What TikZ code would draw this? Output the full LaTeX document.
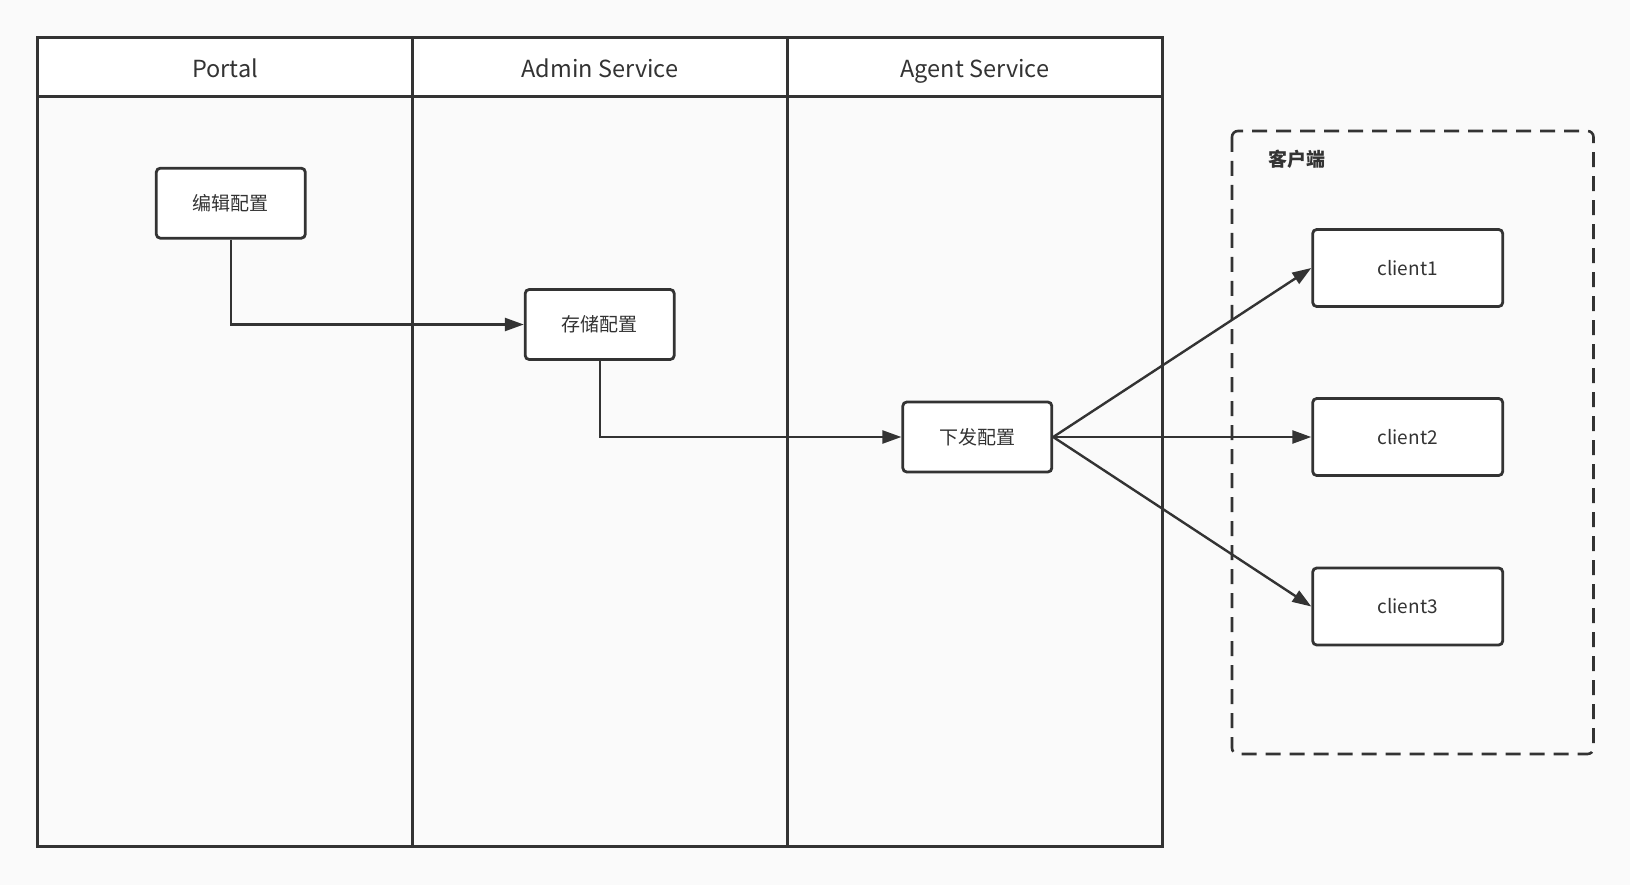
\documentclass[tikz,border=0pt]{standalone}
\usepackage{fontspec}
\setmainfont{Noto Sans CJK SC}
\usepackage{xcolor}
\usepackage{tikz}
\usetikzlibrary{arrows.meta}
\definecolor{ink}{HTML}{333333}
\definecolor{canvas}{HTML}{FAFAFA}
\tikzstyle{lane}=[draw=ink,line width=3pt]
\tikzstyle{title}=[text=ink,font=\fontsize{23.5}{26}\selectfont,anchor=base]
\tikzstyle{task}=[draw=ink,line width=2.8pt,rounded corners=4pt,fill=white,text=ink,
  minimum width=149pt,minimum height=70pt,font=\fontsize{19}{22}\selectfont]
\tikzstyle{client}=[task,minimum width=190pt,minimum height=77pt]
\tikzstyle{flow}=[draw=ink,line width=2.4pt,-{Triangle[length=19pt,width=13pt]}]

\begin{document}
\begin{tikzpicture}[x=1pt,y=-1pt]
        \fill [canvas] (0,0) rectangle (1630,885);
        \useasboundingbox (0,0) rectangle (1630,885);
        % lanes
        \fill [white] (37.5,37.5) rectangle (1162.5,96.7);
        \draw [lane] (37.5,37.5) rectangle (412.5,846);
        \draw [lane] (412.5,37.5) rectangle (787.5,846);
        \draw [lane] (787.5,37.5) rectangle (1162.5,846);
        \draw [lane] (37.5,96.7) -- (1162.5,96.7);
        \node at ( 225,77.5) [title] (portal) {Portal};
        \node at ( 600,77.5) [title] (admin) {Admin Service};
        \node at ( 975,77.5) [title] (agent) {Agent Service};
        % client group
        \draw [draw=ink,line width=2.6pt,dash pattern=on 15pt off 9pt,rounded corners=6pt]
          (1232,131) rectangle (1593.5,754);
        \node at (1296.5,159.5) [text=ink,font=\fontsize{19}{22}\selectfont\bfseries] (group) {客户端};
        % steps
        \node at ( 230.8,203.2) [task] (edit) {编辑配置};
        \node at ( 599.7,324.5) [task] (store) {存储配置};
        \node at ( 977.3,437) [task] (push) {下发配置};
        \node at (1407.7,268) [client] (c1) {client1};
        \node at (1407.7,437) [client] (c2) {client2};
        \node at (1407.7,606.5) [client] (c3) {client3};
        \draw [flow] (edit.south) |- (store.west);
        \draw [flow] (store.south) |- (push.west);
        \draw [flow] (push.east) -- (c1.west);
        \draw [flow] (push.east) -- (c2.west);
        \draw [flow] (push.east) -- (c3.west);
      \end{tikzpicture}
\end{document}
